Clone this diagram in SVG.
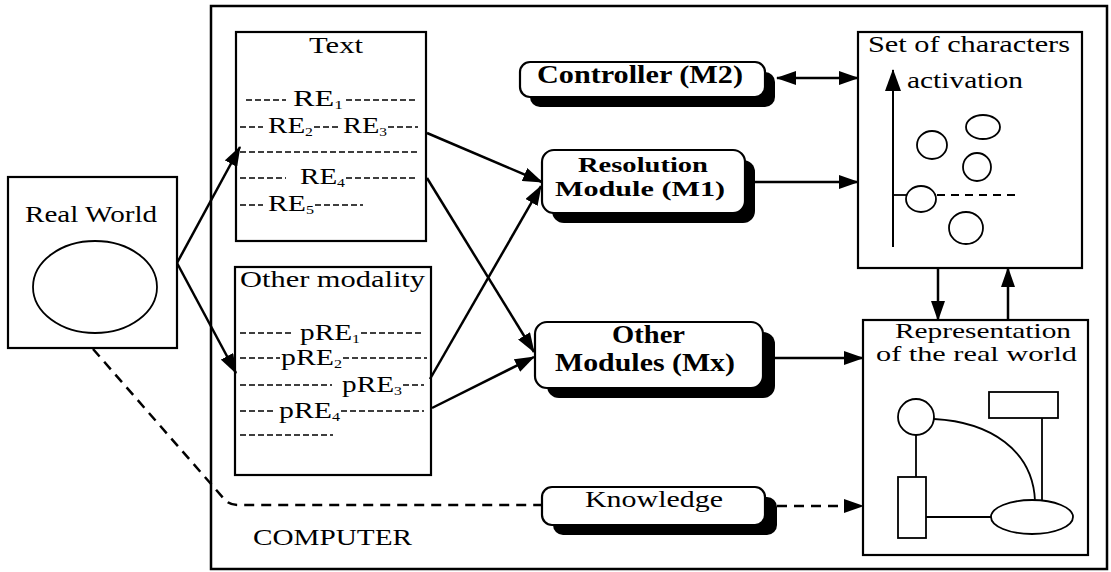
<svg xmlns="http://www.w3.org/2000/svg" width="1111" height="572" viewBox="0 0 1111 572">
<style>
  .box { fill: #fff; stroke: #000; stroke-width: 2.2; }
  .thin { fill: none; stroke: #000; stroke-width: 1.8; }
  .shadow { fill: #000; stroke: none; }
  .lbl { font-family: "Liberation Serif", "Times New Roman", serif; font-size: 24px; fill: #000; }
  .lbl2 { font-family: "Liberation Serif", "Times New Roman", serif; font-size: 21px; fill: #000; }
  .bold { font-family: "Liberation Serif", "Times New Roman", serif; font-size: 25px; font-weight: bold; fill: #000; }
  .bold2 { font-family: "Liberation Serif", "Times New Roman", serif; font-size: 22px; font-weight: bold; fill: #000; }
  .sub { font-size: 13px; }
  .dash { stroke: #000; stroke-width: 1.6; stroke-dasharray: 6 3; fill: none; }
  .arrow { stroke: #000; stroke-width: 2.5; fill: none; marker-end: url(#ah); }
  .conn { stroke: #000; stroke-width: 2.5; fill: none; }
</style>
<defs>
  <marker id="ah" markerUnits="userSpaceOnUse" markerWidth="20" markerHeight="14" refX="19" refY="7" orient="auto-start-reverse">
    <path d="M0,0 L20,7 L0,14 z" fill="#000"/>
  </marker>
  <marker id="ahs" markerUnits="userSpaceOnUse" markerWidth="22" markerHeight="16" refX="21" refY="8" orient="auto-start-reverse">
    <path d="M0,0 L22,8 L0,16 z" fill="#000"/>
  </marker>
</defs>

<g id="computer">
  <rect x="211" y="6" width="896" height="563" fill="none" stroke="#000" stroke-width="2.5"/>
  <text class="lbl" x="253" y="545" textLength="159" lengthAdjust="spacingAndGlyphs">COMPUTER</text>
</g>

<g id="real-world">
  <rect class="box" x="8" y="177" width="169" height="171"/>
  <text class="lbl" x="25" y="222" textLength="132" lengthAdjust="spacingAndGlyphs">Real World</text>
  <ellipse class="thin" cx="95" cy="287" rx="62" ry="46"/>
</g>

<g id="text-box">
  <rect class="box" x="236" y="32" width="190" height="209"/>
  <text class="lbl" x="309" y="53" textLength="54" lengthAdjust="spacingAndGlyphs">Text</text>
  <line class="dash" x1="246" y1="100" x2="286" y2="100"/>
  <text class="lbl" x="293" y="106" textLength="50" lengthAdjust="spacingAndGlyphs">RE<tspan class="sub" dy="3">1</tspan></text>
  <line class="dash" x1="346" y1="100" x2="416" y2="100"/>
  <line class="dash" x1="240" y1="127" x2="263" y2="127"/>
  <text class="lbl" x="268" y="133" textLength="45" lengthAdjust="spacingAndGlyphs">RE<tspan class="sub" dy="3">2</tspan></text>
  <line class="dash" x1="314" y1="127" x2="338" y2="127"/>
  <text class="lbl" x="343" y="133" textLength="44" lengthAdjust="spacingAndGlyphs">RE<tspan class="sub" dy="3">3</tspan></text>
  <line class="dash" x1="388" y1="127" x2="418" y2="127"/>
  <line class="dash" x1="240" y1="152" x2="418" y2="152"/>
  <line class="dash" x1="240" y1="178" x2="286" y2="178"/>
  <text class="lbl" x="300" y="184" textLength="45" lengthAdjust="spacingAndGlyphs">RE<tspan class="sub" dy="3">4</tspan></text>
  <line class="dash" x1="346" y1="178" x2="418" y2="178"/>
  <line class="dash" x1="240" y1="205" x2="263" y2="205"/>
  <text class="lbl" x="268" y="211" textLength="46" lengthAdjust="spacingAndGlyphs">RE<tspan class="sub" dy="3">5</tspan></text>
  <line class="dash" x1="315" y1="205" x2="363" y2="205"/>
</g>

<g id="other-modality">
  <rect class="box" x="235" y="267" width="196" height="208"/>
  <text class="lbl" x="240" y="287" textLength="185" lengthAdjust="spacingAndGlyphs">Other modality</text>
  <line class="dash" x1="240" y1="333" x2="292" y2="333"/>
  <text class="lbl" x="300" y="340" textLength="60" lengthAdjust="spacingAndGlyphs">pRE<tspan class="sub" dy="3">1</tspan></text>
  <line class="dash" x1="361" y1="333" x2="424" y2="333"/>
  <line class="dash" x1="240" y1="358" x2="280" y2="358"/>
  <text class="lbl" x="281" y="365" textLength="61" lengthAdjust="spacingAndGlyphs">pRE<tspan class="sub" dy="3">2</tspan></text>
  <line class="dash" x1="343" y1="358" x2="427" y2="358"/>
  <line class="dash" x1="240" y1="385" x2="332" y2="385"/>
  <text class="lbl" x="342" y="392" textLength="60" lengthAdjust="spacingAndGlyphs">pRE<tspan class="sub" dy="3">3</tspan></text>
  <line class="dash" x1="403" y1="385" x2="424" y2="385"/>
  <line class="dash" x1="240" y1="411" x2="276" y2="411"/>
  <text class="lbl" x="279" y="418" textLength="61" lengthAdjust="spacingAndGlyphs">pRE<tspan class="sub" dy="3">4</tspan></text>
  <line class="dash" x1="341" y1="411" x2="424" y2="411"/>
  <line class="dash" x1="240" y1="435" x2="333" y2="435"/>
</g>

<g id="controller">
  <rect class="shadow" x="530" y="72" width="245" height="35" rx="10"/>
  <rect class="box" x="520" y="62" width="245" height="35" rx="10"/>
  <text class="bold" x="537" y="83" textLength="206" lengthAdjust="spacingAndGlyphs">Controller (M2)</text>
</g>

<g id="resolution">
  <rect class="shadow" x="552" y="160" width="203" height="63" rx="12"/>
  <rect class="box" x="542" y="150" width="203" height="63" rx="12"/>
  <text class="bold2" x="578" y="172" textLength="130" lengthAdjust="spacingAndGlyphs">Resolution</text>
  <text class="bold2" x="555" y="196" textLength="170" lengthAdjust="spacingAndGlyphs">Module (M1)</text>
</g>

<g id="other-modules">
  <rect class="shadow" x="547" y="332" width="228" height="66" rx="12"/>
  <rect class="box" x="535" y="322" width="228" height="66" rx="12"/>
  <text class="bold" x="612" y="343" textLength="73" lengthAdjust="spacingAndGlyphs">Other</text>
  <text class="bold" x="555" y="371" textLength="180" lengthAdjust="spacingAndGlyphs">Modules (Mx)</text>
</g>

<g id="knowledge">
  <rect class="shadow" x="553" y="497" width="224" height="38" rx="10"/>
  <rect class="box" x="542" y="487" width="223" height="38" rx="10"/>
  <text class="lbl" x="585" y="507" textLength="138" lengthAdjust="spacingAndGlyphs">Knowledge</text>
</g>

<g id="set-of-characters">
  <rect class="box" x="858" y="32" width="224" height="236"/>
  <text class="lbl" x="868" y="52" textLength="202" lengthAdjust="spacingAndGlyphs">Set of characters</text>
  <line x1="893" y1="247" x2="893" y2="70" stroke="#000" stroke-width="2" marker-end="url(#ahs)"/>
  <text class="lbl" x="907" y="88" textLength="116" lengthAdjust="spacingAndGlyphs">activation</text>
  <ellipse class="thin" cx="932" cy="145" rx="15" ry="14"/>
  <ellipse class="thin" cx="983" cy="127" rx="17" ry="12"/>
  <ellipse class="thin" cx="977" cy="167" rx="14" ry="14"/>
  <line x1="893" y1="195" x2="906" y2="195" stroke="#000" stroke-width="1.8"/>
  <ellipse class="thin" cx="921" cy="199" rx="15" ry="13"/>
  <line x1="937" y1="195" x2="1017" y2="195" stroke="#000" stroke-width="1.8" stroke-dasharray="8 6"/>
  <ellipse class="thin" cx="966" cy="228" rx="17" ry="16"/>
</g>

<g id="representation">
  <rect class="box" x="863" y="320" width="225" height="235"/>
  <text class="lbl2" x="895" y="338" textLength="176" lengthAdjust="spacingAndGlyphs">Representation</text>
  <text class="lbl2" x="876" y="361" textLength="201" lengthAdjust="spacingAndGlyphs">of the real world</text>
  <circle class="thin" cx="916" cy="417" r="18"/>
  <rect class="thin" x="989" y="392" width="69" height="26"/>
  <line class="thin" x1="1042" y1="418" x2="1042" y2="501"/>
  <path class="thin" d="M934,419 C990,422 1033,450 1035,501"/>
  <line class="thin" x1="916" y1="435" x2="916" y2="477"/>
  <rect class="thin" x="898" y="477" width="28" height="61"/>
  <line class="thin" x1="926" y1="517" x2="991" y2="517"/>
  <ellipse class="thin" cx="1032" cy="517" rx="41" ry="17"/>
</g>

<g id="connectors">
  <line class="arrow" x1="177" y1="263" x2="240" y2="147"/>
  <line class="arrow" x1="177" y1="263" x2="236" y2="373"/>
  <line class="arrow" x1="427" y1="133" x2="542" y2="182"/>
  <line class="arrow" x1="427" y1="178" x2="534" y2="352"/>
  <line class="arrow" x1="430" y1="379" x2="541" y2="186"/>
  <line class="arrow" x1="432" y1="408" x2="534" y2="357"/>
  <line class="arrow" x1="777" y1="78" x2="858" y2="78" marker-start="url(#ah)"/>
  <line class="arrow" x1="755" y1="182" x2="858" y2="182"/>
  <line class="arrow" x1="775" y1="358" x2="863" y2="358"/>
  <line class="arrow" x1="938" y1="268" x2="938" y2="320"/>
  <line class="arrow" x1="1008" y1="320" x2="1008" y2="268"/>
  <path class="conn" d="M93,349 L225,500 Q230,505 238,505 L542,505" stroke-dasharray="10 7"/>
  <line class="arrow" x1="777" y1="506" x2="863" y2="506" stroke-dasharray="10 7"/>
</g>
</svg>
